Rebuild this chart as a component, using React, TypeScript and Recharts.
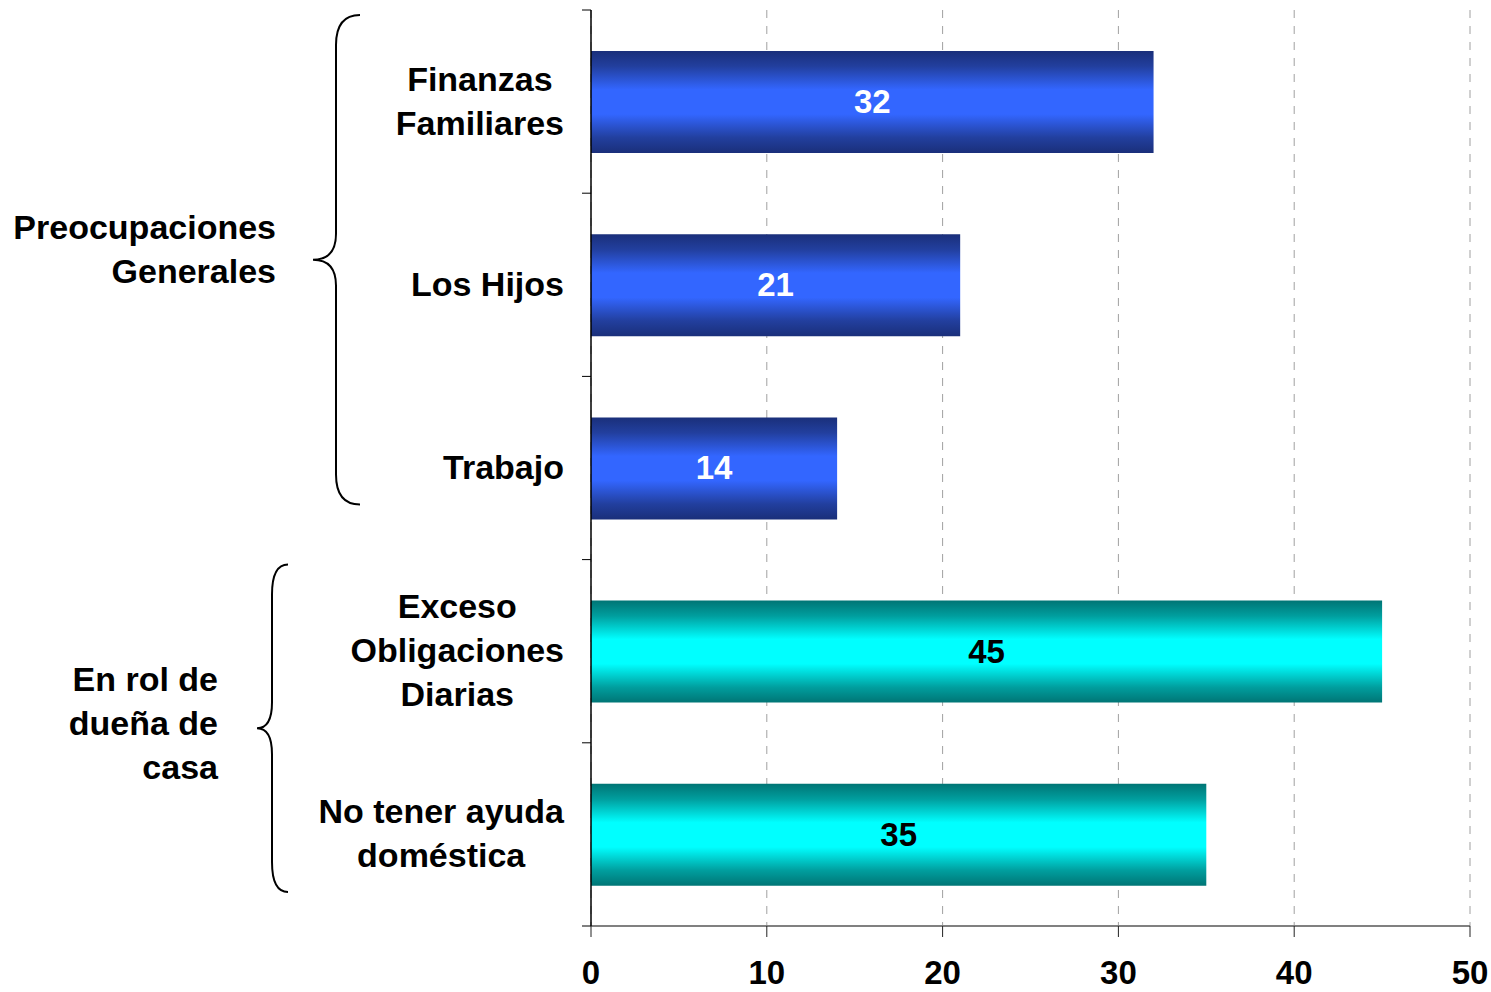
import React from 'react';
import { BarChart, Bar, XAxis, YAxis, CartesianGrid, Cell, LabelList } from 'recharts';

const categories = [
  'Finanzas Familiares',
  'Los Hijos',
  'Trabajo',
  'Exceso Obligaciones Diarias',
  'No tener ayuda doméstica',
];
const categoryLines = [
  ['Finanzas', 'Familiares'],
  ['Los Hijos'],
  ['Trabajo'],
  ['Exceso', 'Obligaciones', 'Diarias'],
  ['No tener ayuda', 'doméstica'],
];
const values = [32, 21, 14, 45, 35];
const categoryGroup = [0, 0, 0, 1, 1];
const groupLabels = [
  ['Preocupaciones', 'Generales'],
  ['En rol de', 'dueña de', 'casa'],
];
const xTicks = [0, 10, 20, 30, 40, 50];

const data = categories.map((name, i) => ({ name, value: values[i], group: categoryGroup[i] }));

// layout
const W = 1491;
const H = 992;
const MARGIN = { top: 10, right: 21, bottom: 0, left: 0 };
const Y_AXIS_W = 591;
const X_AXIS_H = 66;
const PLOT_H = H - MARGIN.top - MARGIN.bottom - X_AXIS_H;
const BAND = PLOT_H / categories.length;
const FONT = '"Liberation Sans", Arial, sans-serif';
const LABEL_SIZE = 34;
const LINE_H = 44;
const LABEL_RIGHT = 564;

// brace styling per group
const braceStyle = [
  { tip: 360, spine: 336, point: 313, padTop: 5, padBottom: 55, labelRight: 276, labelShift: -11 },
  { tip: 288, spine: 272, point: 257, padTop: 5, padBottom: 34, labelRight: 218, labelShift: -5 },
];

let measureCtx: CanvasRenderingContext2D | null = null;
const textWidth = (s: string) => {
  if (!measureCtx && typeof document !== 'undefined') {
    measureCtx = document.createElement('canvas').getContext('2d');
  }
  if (!measureCtx) return s.length * 18;
  measureCtx.font = `bold ${LABEL_SIZE}px "Liberation Sans", Arial, sans-serif`;
  return measureCtx.measureText(s).width;
};

const bracePath = (tip: number, spine: number, point: number, top: number, bottom: number) => {
  const mid = (top + bottom) / 2;
  const r = 30;
  const rm = 26;
  return [
    `M ${tip} ${top}`,
    `Q ${spine} ${top} ${spine} ${top + r}`,
    `L ${spine} ${mid - rm}`,
    `Q ${spine} ${mid} ${point} ${mid}`,
    `Q ${spine} ${mid} ${spine} ${mid + rm}`,
    `L ${spine} ${bottom - r}`,
    `Q ${spine} ${bottom} ${tip} ${bottom}`,
  ].join(' ');
};

const YTick = (props: any) => {
  const { y, payload } = props;
  const idx = categories.indexOf(payload.value);
  const lines = categoryLines[idx] || [payload.value];
  const maxW = Math.max(...lines.map(textWidth));
  const cx = LABEL_RIGHT - maxW / 2;
  const bandTop = y - BAND / 2;
  const g = categoryGroup[idx];
  const isFirstOfGroup = categoryGroup.indexOf(g) === idx;
  let brace = null;
  if (isFirstOfGroup) {
    const count = categoryGroup.filter((c) => c === g).length;
    const st = braceStyle[g];
    const top = bandTop + st.padTop;
    const bottom = bandTop + count * BAND - st.padBottom;
    const mid = (top + bottom) / 2 + st.labelShift;
    const gl = groupLabels[g];
    brace = (
      <g>
        <path d={bracePath(st.tip, st.spine, st.point, top, bottom)} fill="none" stroke="#000" strokeWidth={2} />
        {gl.map((t, i) => (
          <text
            key={i}
            x={st.labelRight}
            y={mid + (i - (gl.length - 1) / 2) * LINE_H + 12}
            textAnchor="end"
            fontFamily={FONT}
            fontWeight="bold"
            fontSize={LABEL_SIZE}
            fill="#000"
          >
            {t}
          </text>
        ))}
      </g>
    );
  }
  return (
    <g>
      <line x1={Y_AXIS_W - 9} x2={Y_AXIS_W} y1={bandTop} y2={bandTop} stroke="#000" strokeWidth={1} />
      {idx === categories.length - 1 && (
        <line x1={Y_AXIS_W - 9} x2={Y_AXIS_W} y1={y + BAND / 2} y2={y + BAND / 2} stroke="#000" strokeWidth={1} />
      )}
      {lines.map((t, i) => (
        <text
          key={i}
          x={cx}
          y={y + (i - (lines.length - 1) / 2) * LINE_H + 11}
          textAnchor="middle"
          fontFamily={FONT}
          fontWeight="bold"
          fontSize={LABEL_SIZE}
          fill="#000"
        >
          {t}
        </text>
      ))}
      {brace}
    </g>
  );
};

const XTick = (props: any) => {
  const { x, y, payload } = props;
  return (
    <text x={x} y={y + 45} textAnchor="middle" fontFamily={FONT} fontWeight="bold" fontSize={33} fill="#000">
      {payload.value}
    </text>
  );
};

const ValueLabel = (props: any) => {
  const { x, y, width, height, value, index } = props;
  const fill = categoryGroup[index] === 0 ? '#fff' : '#000';
  return (
    <text
      x={x + width / 2}
      y={y + height / 2 + 11}
      textAnchor="middle"
      fontFamily={FONT}
      fontWeight="bold"
      fontSize={33}
      fill={fill}
    >
      {value}
    </text>
  );
};

export default function App() {
  return (
    <div style={{ position: 'absolute', left: 0, top: 0, width: W, height: H, background: '#fff' }}>
      <BarChart layout="vertical" width={W} height={H} data={data} margin={MARGIN}>
        <defs>
          <linearGradient id="gBlue" x1="0" y1="0" x2="0" y2="1">
            <stop offset="0%" stopColor="#1a2f7a" />
            <stop offset="15%" stopColor="#223f9e" />
            <stop offset="38%" stopColor="#3366ff" />
            <stop offset="62%" stopColor="#3366ff" />
            <stop offset="85%" stopColor="#223f9e" />
            <stop offset="100%" stopColor="#1a2f7a" />
          </linearGradient>
          <linearGradient id="gCyan" x1="0" y1="0" x2="0" y2="1">
            <stop offset="0%" stopColor="#007575" />
            <stop offset="15%" stopColor="#009e9e" />
            <stop offset="38%" stopColor="#00ffff" />
            <stop offset="62%" stopColor="#00ffff" />
            <stop offset="85%" stopColor="#009e9e" />
            <stop offset="100%" stopColor="#007575" />
          </linearGradient>
        </defs>
        <CartesianGrid horizontal={false} strokeDasharray="8 8" stroke="#a0a0a0" />
        <XAxis
          type="number"
          domain={[0, 50]}
          ticks={xTicks}
          interval={0}
          height={X_AXIS_H}
          axisLine={{ stroke: '#808080', strokeWidth: 2 }}
          tickLine={{ stroke: '#222' }}
          tickSize={11}
          tick={XTick}
        />
        <YAxis
          type="category"
          dataKey="name"
          width={Y_AXIS_W}
          interval={0}
          axisLine={{ stroke: '#000', strokeWidth: 1.5 }}
          tickLine={false}
          tick={YTick}
        />
        <Bar dataKey="value" barSize={102} isAnimationActive={false}>
          {data.map((d, i) => (
            <Cell key={i} fill={d.group === 0 ? 'url(#gBlue)' : 'url(#gCyan)'} />
          ))}
          <LabelList dataKey="value" content={ValueLabel} />
        </Bar>
      </BarChart>
    </div>
  );
}
